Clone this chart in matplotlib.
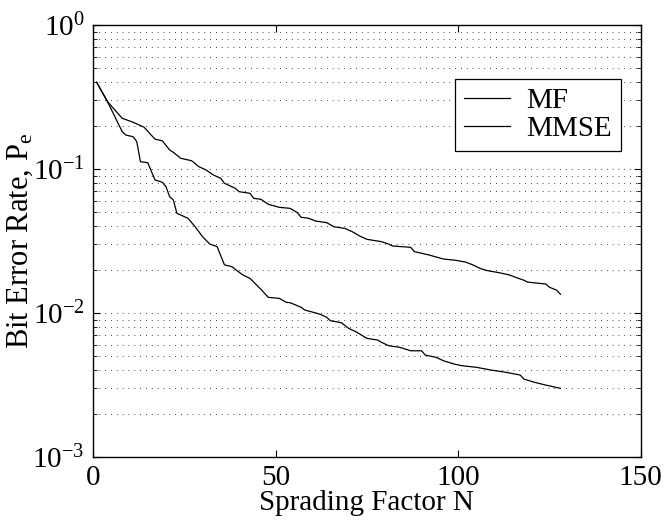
import numpy as np
import matplotlib as mpl
mpl.use("agg")
mpl.rcParams['font.family'] = 'Liberation Serif'
mpl.rcParams['mathtext.fontset'] = 'custom'
mpl.rcParams['mathtext.rm'] = 'Liberation Serif'
mpl.rcParams['mathtext.it'] = 'Liberation Serif:italic'
mpl.rcParams['font.size'] = 22
mpl.rcParams['xtick.labelsize'] = 21
mpl.rcParams['ytick.labelsize'] = 21
import matplotlib.pyplot as plt
from matplotlib.ticker import LogLocator, NullFormatter

# spreading factor and bit error rate
n_mf = [1, 4, 8, 11, 14, 17, 19, 21, 22, 24, 27, 29, 31, 33, 35, 36, 39, 40,
        43, 44, 46, 48, 51, 54, 56, 57, 59, 61, 64, 66, 69, 71, 73, 75, 79,
        81, 82, 87, 88, 92, 96, 99, 102, 104, 106, 108, 111, 114, 116, 118,
        119, 124, 125, 127, 128]
pe_mf = [0.40, 0.293, 0.225, 0.211, 0.195, 0.161, 0.157, 0.1355, 0.1306,
         0.1187, 0.1142, 0.1038, 0.0984, 0.0908, 0.0861, 0.0796, 0.0734,
         0.0696, 0.0678, 0.0626, 0.0616, 0.0569, 0.0542, 0.0533, 0.0497,
         0.0462, 0.0455, 0.0435, 0.0424, 0.0397, 0.0387, 0.0367, 0.0343,
         0.0325, 0.0313, 0.0301, 0.0292, 0.0286, 0.0267, 0.0253, 0.0237,
         0.0233, 0.0226, 0.0216, 0.0204, 0.0197, 0.0191, 0.0184, 0.0176,
         0.0169, 0.0164, 0.0159, 0.0151, 0.0144, 0.0135]

n_mmse = [1, 4, 8, 9, 11, 12, 13, 15, 17, 19, 20, 21, 22, 23, 26, 28, 30, 32,
          34, 36, 38, 41, 43, 46, 48, 51, 53, 54, 57, 58, 62, 64, 65, 68, 70,
          72, 75, 78, 79, 81, 84, 87, 90, 91, 94, 96, 99, 101, 105, 109, 113,
          117, 118, 121, 124, 128]
pe_mmse = [0.40, 0.293, 0.1816, 0.172, 0.1676, 0.1548, 0.1124, 0.1106,
           0.0839, 0.0809, 0.0754, 0.0642, 0.0609, 0.0492, 0.0455, 0.0397,
           0.0339, 0.0301, 0.0289, 0.0216, 0.0210, 0.0184, 0.0174, 0.0146,
           0.01285, 0.01265, 0.01186, 0.0118, 0.01096, 0.0105, 0.00985,
           0.00934, 0.00885, 0.00857, 0.00783, 0.00742, 0.00667, 0.00649,
           0.00626, 0.00593, 0.00578, 0.00547, 0.00547, 0.00511, 0.00492,
           0.00466, 0.00442, 0.00431, 0.0042, 0.00402, 0.00388, 0.00371,
           0.00348, 0.0033, 0.00316, 0.0030]

fig = plt.figure(figsize=(6.64, 5.2), dpi=100)
ax = fig.add_axes([0.140, 0.121, 0.825, 0.831])

ax.semilogy(n_mf, pe_mf, '-', color='black', lw=0.9, label='MF')
ax.semilogy(n_mmse, pe_mmse, '-', color='black', lw=0.9, label='MMSE')

ax.set_xlim(0, 150)
ax.set_ylim(1e-3, 1e0)
ax.set_xticks([0, 50, 100, 150])
ax.yaxis.set_major_locator(LogLocator(base=10, numticks=10))
ax.yaxis.set_minor_locator(LogLocator(base=10, subs=np.arange(2, 10), numticks=100))
ax.yaxis.set_minor_formatter(NullFormatter())

ax.grid(True, which='both', axis='y', linestyle=(0, (1, 6)), color='black', lw=0.6)
ax.tick_params(which='both', direction='in', top=True, right=True)
ax.tick_params(which='major', length=5, width=0.8)
ax.tick_params(which='minor', length=3, width=0.6)
ax.tick_params(axis='x', pad=6)
ax.tick_params(axis='y', pad=6)
for s in ax.spines.values():
    s.set_linewidth(1.0)

ax.set_xlabel('Sprading Factor N', fontsize=21, labelpad=-1)
ax.set_ylabel(r'Bit Error Rate, P$_{\rm e}$', labelpad=-2)

leg = ax.legend(loc='upper right', bbox_to_anchor=(0.9635, 0.875),
                fontsize=21, fancybox=False, edgecolor='black', framealpha=1,
                handlelength=1.6, handletextpad=0.55, borderpad=0.3,
                labelspacing=0.05, borderaxespad=0)
leg.get_frame().set_linewidth(0.9)

fig.savefig('out.png', dpi=100)
